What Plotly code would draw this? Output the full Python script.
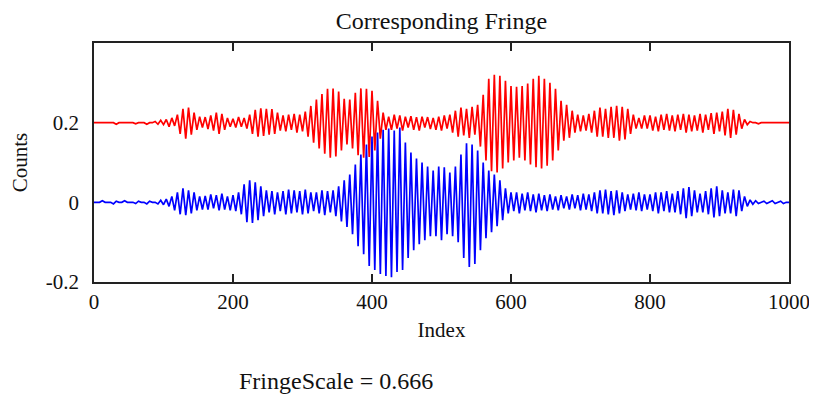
import plotly.graph_objects as go

# Sample index (every 4th point of the 1000-point fringe record)
sample_index = list(range(0, 1001, 4))

# Offsets of the two traces (counts)
red_offset = 0.2
blue_offset = 0.0

# Fringe deviations, in milli-counts
red_fringe_mcounts = [
    0, 0, 0, 0, 0, 0, 0, 0, -4, 0,
    0, 0, 0, 0, 0, -3, 0, 0, 0, -4,
    0, 0, 3, -4, 6, -5, 8, -10, 12, -8,
    20, -28, 35, -40, 38, -30, 25, -18, 15, -12,
    14, -16, 18, -20, 25, -28, 22, -18, 12, -10,
    10, -12, 14, -10, 12, -15, 20, -28, 32, -35,
    36, -33, 35, -30, 34, -28, 25, -20, 18, -22,
    20, -18, 22, -25, 20, -22, 28, -35, 42, -50,
    58, -65, 72, -78, 85, -88, 86, -85, 78, -70,
    60, -55, 58, -65, 75, -82, 86, -88, 85, -86,
    80, -70, 55, -40, 25, -18, 15, -18, 20, -15,
    18, -20, 15, -12, 16, -18, 14, -20, 15, -12,
    14, -16, 12, -18, 15, -20, 18, -15, 20, -25,
    30, -35, 38, -32, 35, -38, 40, -30, 45, -60,
    70, -95, 110, -122, 120, -125, 118, -115, 105, -100,
    92, -95, 90, -88, 92, -95, 98, -105, 110, -112,
    118, -115, 110, -108, 100, -95, 85, -70, 55, -45,
    45, -38, 30, -25, 20, -22, 18, -20, 22, -25,
    30, -35, 38, -35, 35, -38, 40, -38, 42, -45,
    40, -42, 35, -28, 20, -15, 12, -15, 18, -15,
    18, -20, 15, -22, 20, -18, 22, -20, 18, -22,
    20, -18, 22, -25, 20, -22, 18, -20, 22, -25,
    20, -18, 24, -28, 25, -22, 28, -32, 35, -38,
    32, -30, 22, -15, 8, -5, 3, 0, 0, -3,
    0, 0, 0, 0, 0, 0, 0, 0, 0, 0,
    0,
]

blue_fringe_mcounts = [
    0, 0, 0, 4, 0, 0, 0, -4, 3, 0,
    0, 4, 0, 0, 0, -3, 3, 0, 0, -4,
    3, 0, 0, -4, 5, -6, 8, -10, 15, -20,
    25, -30, 35, -32, 30, -28, 25, -20, 15, -18,
    16, -18, 20, -15, 18, -20, 22, -18, 15, -20,
    18, -22, 25, -30, 45, -50, 55, -52, 50, -45,
    40, -35, 30, -25, 28, -30, 25, -22, 28, -30,
    32, -28, 30, -25, 28, -30, 32, -28, 25, -22,
    25, -28, 30, -32, 28, -25, 30, -35, 40, -48,
    55, -62, 70, -80, 95, -110, 120, -130, 145, -160,
    165, -170, 175, -180, 182, -185, 185, -188, 180, -175,
    188, -170, 150, -140, 125, -120, 110, -105, 100, -95,
    90, -85, 80, -85, 90, -95, 88, -80, 75, -85,
    90, -100, 120, -140, 148, -162, 145, -155, 130, -120,
    100, -90, 80, -75, 70, -60, 55, -45, 35, -28,
    25, -22, 25, -28, 22, -20, 25, -22, 20, -25,
    22, -20, 18, -22, 20, -18, 15, -20, 18, -15,
    15, -18, 20, -15, 18, -20, 22, -18, 20, -22,
    25, -28, 30, -28, 32, -30, 28, -32, 30, -28,
    25, -22, 20, -18, 22, -20, 25, -22, 20, -18,
    20, -22, 25, -28, 25, -22, 28, -25, 22, -25,
    28, -30, 35, -40, 38, -35, 30, -25, 22, -25,
    28, -30, 35, -38, 40, -35, 30, -28, 25, -28,
    32, -35, 30, -22, 15, -10, 6, -5, 4, -3,
    0, 3, -3, 0, 4, -3, 0, 3, -3, 0,
    0,
]

x_tick_values = [0, 200, 400, 600, 800, 1000]
y_tick_values = [-0.2, 0, 0.2]
y_tick_labels = ["-0.2", "0", "0.2"]
fringe_scale_text = "FringeScale = 0.666"

red_counts = [red_offset + v / 1000.0 for v in red_fringe_mcounts]
blue_counts = [blue_offset + v / 1000.0 for v in blue_fringe_mcounts]

FONT = "Liberation Serif, Times New Roman, serif"
TXT = "#111111"

# The page body adds an 8px margin; the figure is sized to fill the rest.
W, H = 809, 389
L, T = 86, 35
PLOT_W, PLOT_H = 695, 239

fig = go.Figure()
fig.add_trace(go.Scatter(x=sample_index, y=red_counts, mode="lines",
                         line=dict(color="#ff0000", width=1.7), showlegend=False))
fig.add_trace(go.Scatter(x=sample_index, y=blue_counts, mode="lines",
                         line=dict(color="#0000ff", width=1.7), showlegend=False))

fig.update_layout(
    width=W, height=H,
    margin=dict(l=L, r=W - L - PLOT_W, t=T, b=H - T - PLOT_H, pad=0),
    paper_bgcolor="white", plot_bgcolor="white",
    font=dict(family=FONT, size=21, color=TXT),
    title=dict(text="Corresponding Fringe", x=0.5, xref="paper", xanchor="center",
               y=1 - 13 / H, yref="container", yanchor="middle",
               font=dict(family=FONT, size=24, color=TXT)),
    annotations=[dict(text=fringe_scale_text, xref="paper", yref="paper",
                      x=(237 - 94) / PLOT_W, y=-(381 - 282) / PLOT_H,
                      xanchor="left", yanchor="middle", showarrow=False,
                      font=dict(family=FONT, size=24, color=TXT))],
)

fig.update_xaxes(
    automargin=False,
    range=[0, 1000], tickvals=x_tick_values,
    ticks="inside", ticklen=8, tickwidth=1.5, tickcolor="#222222",
    showline=True, linewidth=1.5, linecolor="#222222", mirror="ticks",
    showgrid=False, zeroline=False, tickfont=dict(size=21),
    title=dict(text="Index", standoff=9, font=dict(family=FONT, size=21)),
)
fig.update_yaxes(
    automargin=False,
    range=[-0.2, 0.4], tickvals=y_tick_values, ticktext=y_tick_labels,
    ticks="inside", ticklen=0, showline=True, linewidth=1.5, linecolor="#222222", mirror=True,
    showgrid=False, zeroline=False, ticklabelstandoff=9, tickfont=dict(size=21),
    title=dict(text="Counts", standoff=20, font=dict(family=FONT, size=21)),
)

fig.write_html("out.html")
